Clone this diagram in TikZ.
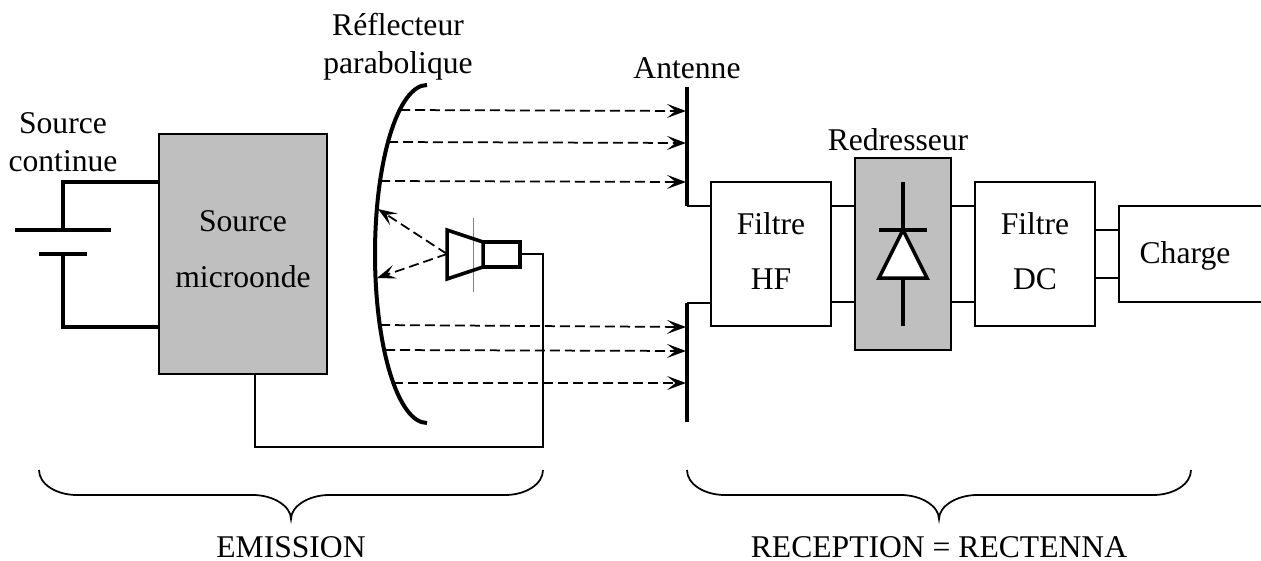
\documentclass[tikz,border=0pt]{standalone}
\usepackage{fontspec}
\setmainfont{Liberation Serif}
\usetikzlibrary{arrows.meta}
\definecolor{gris}{gray}{0.75}
\tikzset{
    block/.style={rectangle, draw, line width=0.035cm, inner sep=0pt, align=center},
    grayblock/.style={block, fill=gris},
    legend/.style={inner sep=0pt, align=center},
    wire/.style={line width=0.035cm},
    heavy/.style={line width=0.07cm},
    ray/.style={-{Stealth[length=0.38cm, width=0.28cm, inset=0.17cm]}, line width=0.035cm, dash pattern=on 0.2cm off 0.1cm},
}
\newcommand{\accolade}[1]{
    \draw[wire, shift={(#1,0)}] (0,470) .. controls (0,484) and (17,495) .. (38,495) -- (214,495)
        .. controls (234,495) and (252,506) .. (252,519) .. controls (252,506) and (270,495) .. (290,495)
        -- (466,495) .. controls (487,495) and (504,484) .. (504,470);
}

\begin{document}
\begin{tikzpicture}[x=0.02cm, y=-0.02cm, font=\fontsize{18}{21.5}\selectfont]
    \useasboundingbox (0,0) rectangle (1261,561);
    % blocks
    \node[grayblock, minimum width=3.36cm, minimum height=4.8cm] (micro) at (243,254) {};
    \node[block, minimum width=2.4cm, minimum height=2.88cm] (hf) at (771,254) {};
    \node[grayblock, minimum width=1.92cm, minimum height=3.84cm] (red) at (903,254) {};
    \node[block, minimum width=2.4cm, minimum height=2.88cm] (dc) at (1035,254) {};
    \node[block, minimum width=3.6cm, minimum height=1.92cm] (load) at (1209,254) {};
    \node[legend] (microtxt) at (243,249) {Source\\[10.5pt]microonde};
    \node[legend] (hftxt) at (771,251) {Filtre\\[10pt]HF};
    \node[legend] (dctxt) at (1035,251) {Filtre\\[10pt]DC};
    \node[legend] (loadtxt) at (1185,256) {Charge};
    % labels
    \node[legend] (lblcont) at (63,142) {Source\\continue};
    \node[legend] (lblrefl) at (398,47) {Réflecteur\\parabolique};
    \node[legend] (lblant) at (687,68) {Antenne};
    \node[legend] (lblred) at (898,140) {Redresseur};
    \node[legend] (lblem) at (291,547) {EMISSION};
    \node[legend] (lblrec) at (939,547) {RECEPTION = RECTENNA};
    % battery
    \coordinate (plate1a) at (15,230);
    \coordinate (plate1b) at (111,230);
    \coordinate (plate2a) at (39,254);
    \coordinate (plate2b) at (87,254);
    \coordinate (pole1) at (63,230);
    \coordinate (pole2) at (63,254);
    \coordinate (wire1) at (63,182);
    \coordinate (wire2) at (63,327);
    \draw[heavy] (plate1a) -- (plate1b);
    \draw[heavy] (plate2a) -- (plate2b);
    \draw[heavy] (pole1) -- (wire1) -- (micro.west |- wire1);
    \draw[heavy] (pole2) -- (wire2) -- (micro.west |- wire2);
    % reflector
    \coordinate (refltop) at (427,85);
    \coordinate (reflmid) at (375,254);
    \coordinate (reflbot) at (427,423);
    \draw[line width=0.08cm] (refltop) .. controls (398,85) and (375,161) .. (reflmid) .. controls (375,347) and (398,423) .. (reflbot);
    % horn
    \coordinate (tick1) at (473,218);
    \coordinate (tick2) at (473,292);
    \draw[line width=0.2pt, gray] (tick1) -- (tick2);
    \coordinate (hornf1) at (447,230);
    \coordinate (hornf2) at (447,279);
    \coordinate (hornb1) at (483,242);
    \coordinate (hornb2) at (483,267);
    \coordinate (hornc1) at (520,242);
    \coordinate (hornc2) at (520,267);
    \coordinate (hornmid) at (447,254);
    \coordinate (hornout) at (520,254);
    \draw[line width=0.07cm] (hornf1) -- (hornb1) -- (hornb2) -- (hornf2) -- cycle;
    \draw[line width=0.07cm] (hornb1) -- (hornc1) -- (hornc2) -- (hornb2);
    \coordinate (turn1) at (543,254);
    \coordinate (turn2) at (543,447);
    \coordinate (turn3) at (255,447);
    \draw[wire] (hornout) -- (turn1) -- (turn2) -- (turn3) -- (turn3 |- micro.south);
    % antenna
    \coordinate (anta1) at (687,87);
    \coordinate (anta2) at (687,206);
    \coordinate (antb1) at (687,303);
    \coordinate (antb2) at (687,422);
    \draw[line width=0.09cm] (anta1) -- (anta2);
    \draw[line width=0.09cm] (antb1) -- (antb2);
    % rays
    \coordinate (fa) at (400,110);
    \coordinate (fb) at (388,142);
    \coordinate (fc) at (380,181);
    \coordinate (fd) at (380,325);
    \coordinate (fe) at (385,350);
    \coordinate (ff) at (393,383);
    \coordinate (ta) at (686,111);
    \coordinate (tb) at (686,143);
    \coordinate (tc) at (686,182);
    \coordinate (td) at (686,327);
    \coordinate (te) at (686,351);
    \coordinate (tf) at (686,383);
    \draw[ray] (fa) -- (ta);
    \draw[ray] (fb) -- (tb);
    \draw[ray] (fc) -- (tc);
    \draw[ray] (fd) -- (td);
    \draw[ray] (fe) -- (te);
    \draw[ray] (ff) -- (tf);
    \coordinate (ru) at (378,209);
    \coordinate (rl) at (377,278);
    \draw[ray] (hornmid) -- (ru);
    \draw[ray] (hornmid) -- (rl);
    % links
    \coordinate (high) at (0,206);
    \coordinate (low) at (0,302);
    \coordinate (dcup) at (0,230);
    \coordinate (dclow) at (0,278);
    \draw[wire] (anta2) -- (hf.west |- anta2);
    \draw[wire] (antb1) -- (hf.west |- antb1);
    \draw[wire] (hf.east |- high) -- (red.west |- high);
    \draw[wire] (hf.east |- low) -- (red.west |- low);
    \draw[wire] (red.east |- high) -- (dc.west |- high);
    \draw[wire] (red.east |- low) -- (dc.west |- low);
    \draw[wire] (dc.east |- dcup) -- (load.west |- dcup);
    \draw[wire] (dc.east |- dclow) -- (load.west |- dclow);
    % diode
    \coordinate (dtop) at (903,182);
    \coordinate (dapex) at (903,230);
    \coordinate (dbase) at (903,278);
    \coordinate (dbot) at (903,326);
    \coordinate (bar1) at (879,230);
    \coordinate (bar2) at (927,230);
    \coordinate (base1) at (879,278);
    \coordinate (base2) at (927,278);
    \draw[heavy] (dtop) -- (dapex);
    \draw[heavy] (bar1) -- (bar2);
    \draw[heavy] (dbase) -- (dbot);
    \draw[heavy, fill=white] (dapex) -- (base2) -- (base1) -- cycle;
    % braces
    \accolade{39}
    \accolade{687}
\end{tikzpicture}
\end{document}
